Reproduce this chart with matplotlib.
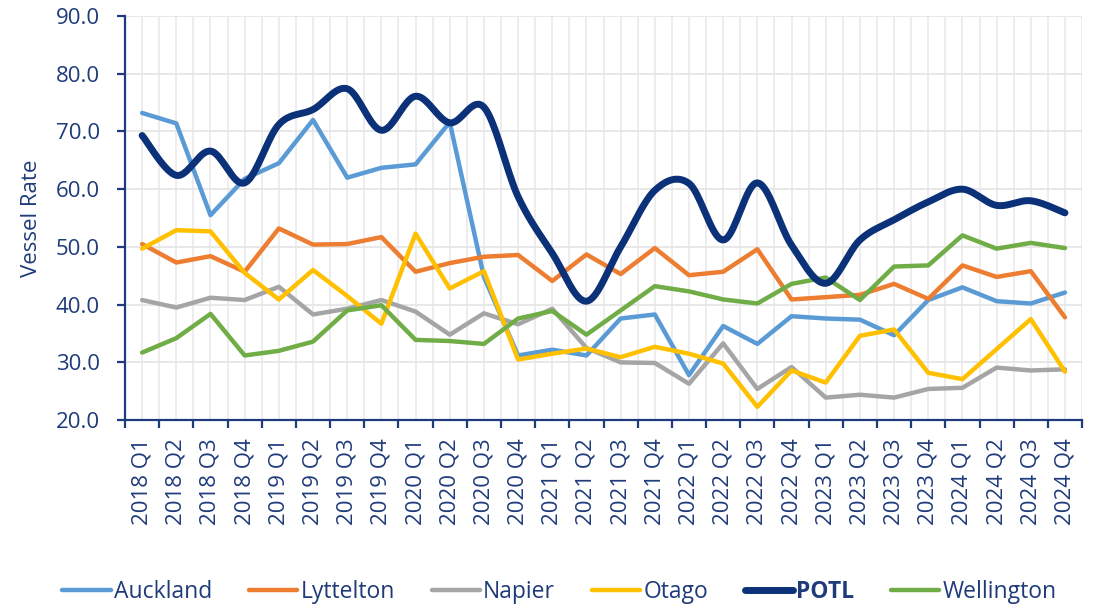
import numpy as np
import matplotlib
matplotlib.use("Agg")
import matplotlib.pyplot as plt

plt.rcParams['font.family'] = ['Open Sans', 'DejaVu Sans']

quarters = [f"{y} Q{q}" for y in range(2018, 2025) for q in range(1, 5)]

auckland = [73.2, 71.4, 55.5, 61.8, 64.5, 72.0, 62.0, 63.7, 64.3, 71.6, 44.8, 31.2, 32.2, 31.2,
            37.6, 38.3, 27.8, 36.3, 33.2, 38.0, 37.6, 37.4, 34.7, 40.8, 43.0, 40.6, 40.2, 42.1]
lyttelton = [50.5, 47.3, 48.4, 45.7, 53.2, 50.4, 50.5, 51.7, 45.7, 47.2, 48.3, 48.6, 44.1, 48.7,
             45.3, 49.8, 45.1, 45.7, 49.6, 40.9, 41.3, 41.7, 43.6, 41.0, 46.8, 44.8, 45.8, 37.8]
napier = [40.8, 39.5, 41.2, 40.8, 43.1, 38.3, 39.3, 40.8, 38.8, 34.8, 38.5, 36.6, 39.3, 32.5,
          30.0, 29.9, 26.3, 33.3, 25.4, 29.2, 23.9, 24.4, 23.9, 25.4, 25.6, 29.1, 28.6, 28.8]
otago = [49.7, 52.9, 52.7, 45.5, 40.9, 46.0, 41.5, 36.7, 52.3, 42.8, 45.8, 30.5, 31.5, 32.4,
         30.9, 32.7, 31.5, 29.8, 22.3, 28.6, 26.5, 34.6, 35.7, 28.2, 27.1, 32.3, 37.5, 28.4]
potl = [69.3, 62.4, 66.6, 61.1, 71.2, 73.8, 77.4, 70.2, 76.1, 71.5, 74.2, 58.7, 48.9, 40.6,
        50.0, 59.8, 61.0, 51.2, 61.1, 50.3, 43.7, 51.2, 54.7, 57.8, 60.0, 57.2, 58.0, 55.9]
wellington = [31.7, 34.2, 38.4, 31.2, 32.0, 33.6, 39.0, 39.9, 33.9, 33.7, 33.2, 37.6, 38.9, 34.8,
              39.0, 43.2, 42.3, 40.9, 40.2, 43.6, 44.7, 40.8, 46.6, 46.8, 52.0, 49.7, 50.7, 49.8]

series = [
    ("Auckland", auckland, "#5B9BD5", 3.2, False),
    ("Lyttelton", lyttelton, "#ED7D31", 3.2, False),
    ("Napier", napier, "#A5A5A5", 3.2, False),
    ("Otago", otago, "#FFC000", 3.2, False),
    ("POTL", potl, "#0B3178", 5.0, True),
    ("Wellington", wellington, "#70AD47", 3.2, False),
]

TEXT = "#1F3B7A"
AXC = "#1F3B7D"


def smooth(x, y, n=20):
    x = np.asarray(x, float)
    y = np.asarray(y, float)
    px = np.concatenate([[x[0]], x, [x[-1]]])
    py = np.concatenate([[y[0]], y, [y[-1]]])
    xs, ys = [], []
    for i in range(1, len(px) - 2):
        p0 = np.array([px[i - 1], py[i - 1]])
        p1 = np.array([px[i], py[i]])
        p2 = np.array([px[i + 1], py[i + 1]])
        p3 = np.array([px[i + 2], py[i + 2]])
        c1 = p1 + (p2 - p0) / 6.0
        c2 = p2 - (p3 - p1) / 6.0
        t = np.linspace(0, 1, n, endpoint=(i == len(px) - 3))[:, None]
        b = ((1 - t) ** 3) * p1 + 3 * ((1 - t) ** 2) * t * c1 + 3 * (1 - t) * t ** 2 * c2 + t ** 3 * p2
        xs.append(b[:, 0])
        ys.append(b[:, 1])
    return np.concatenate(xs), np.concatenate(ys)


fig = plt.figure(figsize=(10.93, 6.08), dpi=100)
ax = fig.add_axes([0.1144, 0.309, 0.8756, 0.6647])

x = np.arange(len(quarters))
handles = []
for name, vals, col, lw, sm in series:
    if sm:
        sx, sy = smooth(x, vals)
        h, = ax.plot(sx, sy, color=col, lw=lw, solid_capstyle='round', solid_joinstyle='round',
                     label=name, zorder=4)
    else:
        h, = ax.plot(x, vals, color=col, lw=lw, solid_capstyle='round', solid_joinstyle='round',
                     label=name, zorder=3)
    handles.append(h)

ax.set_xlim(-0.5, len(quarters) - 0.5)
ax.set_ylim(20, 90)
ax.set_yticks(np.arange(20, 91, 10))
ax.set_yticklabels([f"{v:.1f}" for v in np.arange(20, 91, 10)])
ax.set_xticks(x)
ax.set_xticklabels(quarters, rotation=90, va='top', ha='center')
ax.set_xticks(np.arange(-0.5, len(quarters), 1.0), minor=True)

ax.tick_params(axis='x', which='major', length=0, pad=13, labelsize=16, labelcolor=TEXT)
ax.tick_params(axis='x', which='minor', length=6, width=1.6, color=AXC, direction='out')
ax.tick_params(axis='y', which='major', length=6, width=1.6, color=AXC, pad=12,
               labelsize=16, labelcolor=TEXT)

ax.grid(axis='y', which='major', color='#E6E6E6', lw=1.3, zorder=0)
ax.grid(axis='x', which='both', color='#ECECEC', lw=1.3, zorder=0)
ax.set_axisbelow(True)

for s in ['top', 'right']:
    ax.spines[s].set_visible(False)
for s in ['left', 'bottom']:
    ax.spines[s].set_color(AXC)
    ax.spines[s].set_linewidth(1.6)

ax.set_ylabel("Vessel Rate", fontsize=16, color=TEXT, labelpad=10)

leg = fig.legend(handles=handles, loc='center', bbox_to_anchor=(0.512, 0.027), ncol=6,
                 frameon=False, fontsize=16.5, handlelength=2.1, handletextpad=0.15,
                 columnspacing=1.6)
for t in leg.get_texts():
    t.set_color(TEXT)
leg.get_texts()[4].set_fontweight('bold')

fig.savefig("out.png", dpi=100)
